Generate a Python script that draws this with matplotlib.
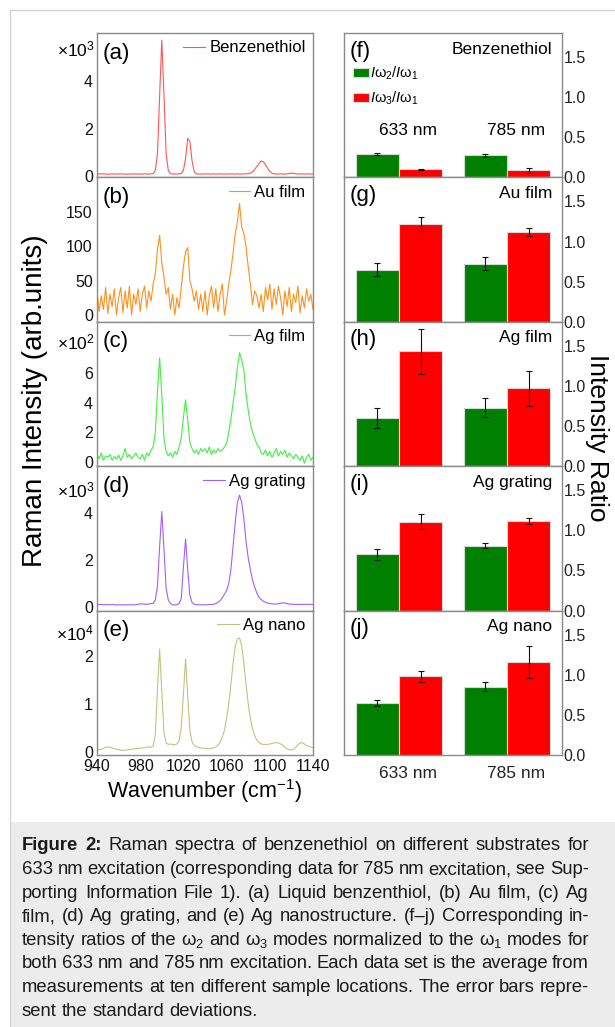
import numpy as np
import matplotlib
matplotlib.use('Agg')
import matplotlib.pyplot as plt
from matplotlib.patches import Rectangle
from matplotlib.lines import Line2D

plt.rcParams['font.family'] = ['Liberation Sans', 'DejaVu Sans']
plt.rcParams['mathtext.fontset'] = 'custom'
plt.rcParams['mathtext.rm'] = 'Liberation Sans'
plt.rcParams['mathtext.it'] = 'Liberation Sans:italic'
plt.rcParams['mathtext.bf'] = 'Liberation Sans:bold'

# ---------------- data ----------------
wavenumber = np.arange(940, 1141, 2)

benzenethiol = [0.1,0.11,0.1,0.11,0.1,0.09,0.1,0.11,0.1,0.1,
                0.1,0.11,0.1,0.1,0.09,0.1,0.1,0.11,0.1,0.1,
                0.1,0.1,0.11,0.1,0.1,0.11,0.12,0.25,0.95,3.4,
                5.7,3.4,0.95,0.25,0.12,0.1,0.1,0.1,0.11,0.12,
                0.25,0.75,1.6,1.45,0.65,0.2,0.11,0.1,0.1,0.1,
                0.1,0.11,0.1,0.1,0.11,0.1,0.1,0.11,0.1,0.1,
                0.1,0.1,0.11,0.1,0.1,0.11,0.1,0.1,0.11,0.11,
                0.11,0.14,0.19,0.29,0.42,0.54,0.64,0.62,0.49,0.34,
                0.21,0.14,0.11,0.1,0.1,0.11,0.1,0.1,0.11,0.12,
                0.14,0.13,0.11,0.1,0.1,0.11,0.1,0.1,0.11,0.1,
                0.1]
au_film = [35,5,28,8,40,2,30,12,38,0,
           25,40,3,35,10,42,0,30,15,38,
           5,30,42,10,35,20,45,60,95,116,
           75,55,30,40,8,30,0,25,10,40,
           70,92,98,50,38,20,35,8,30,5,
           35,0,28,42,10,38,5,30,45,0,
           20,45,65,90,118,135,162,128,118,100,
           70,45,15,35,28,10,30,5,40,22,
           45,8,38,15,42,25,0,35,12,40,
           5,30,18,42,3,28,10,38,20,30,
           8]
ag_film = [0.5,0.2,0.6,0.1,0.4,0.3,0.5,0.1,0.35,0.2,
           0.45,0.1,0.4,0.9,0.3,0.5,0.2,0.4,0.6,0.3,
           0.2,0.5,0.1,0.6,0.4,0.8,1.0,2.0,4.8,7.05,
           4.5,1.6,0.7,0.4,0.6,0.3,0.7,0.5,1.0,1.6,
           3.0,4.2,2.8,1.3,0.9,0.6,0.8,0.5,0.9,0.7,
           0.9,0.6,1.0,0.5,0.8,0.6,0.9,0.7,0.8,1.0,
           1.25,2.0,2.9,4.0,5.1,6.4,7.4,6.9,6.2,4.6,
           3.5,2.6,2.0,1.6,1.2,1.0,0.6,0.5,0.8,0.4,
           0.7,0.3,0.6,0.9,0.4,0.7,0.5,0.8,0.3,0.6,
           0.4,0.2,0.5,0.3,0.1,0.4,-0.1,0.3,0.5,0.1,
           0.3]
ag_grating = [0.12,0.11,0.12,0.1,0.11,0.1,0.1,0.11,0.1,0.09,
              0.1,0.09,0.1,0.09,0.1,0.1,0.09,0.1,0.1,0.12,
              0.13,0.14,0.12,0.12,0.13,0.15,0.15,0.3,0.9,2.6,
              4.07,2.5,0.8,0.3,0.15,0.1,0.09,0.1,0.15,0.35,
              1.7,2.9,1.6,0.5,0.2,0.12,0.1,0.1,0.1,0.1,
              0.1,0.1,0.11,0.11,0.12,0.15,0.2,0.28,0.4,0.55,
              0.7,1.0,1.6,2.6,3.6,4.45,4.77,4.45,3.75,2.8,
              2.1,1.6,1.15,0.85,0.6,0.42,0.32,0.25,0.2,0.17,
              0.15,0.14,0.13,0.13,0.14,0.16,0.18,0.17,0.15,0.13,
              0.12,0.12,0.11,0.12,0.11,0.11,0.12,0.11,0.12,0.11,
              0.11]
ag_nano = [0.03,0.04,0.05,0.07,0.09,0.1,0.09,0.08,0.06,0.05,
           0.04,0.03,0.03,0.03,0.04,0.04,0.05,0.06,0.06,0.07,
           0.07,0.08,0.08,0.09,0.1,0.09,0.12,0.35,1.3,2.14,
           1.25,0.4,0.18,0.15,0.16,0.15,0.14,0.16,0.22,0.5,
           1.2,1.93,1.15,0.45,0.2,0.13,0.1,0.09,0.08,0.07,
           0.07,0.06,0.06,0.07,0.08,0.1,0.13,0.2,0.3,0.45,
           0.7,1.0,1.4,1.85,2.2,2.35,2.37,2.2,1.85,1.4,
           1.0,0.7,0.48,0.33,0.24,0.19,0.16,0.15,0.15,0.15,
           0.16,0.17,0.18,0.19,0.18,0.16,0.13,0.09,0.06,0.04,
           0.03,0.05,0.09,0.14,0.18,0.19,0.16,0.13,0.11,0.1,
           0.08]

spectra = [benzenethiol, au_film, ag_film, ag_grating, ag_nano]
spec_names = ['Benzenethiol', 'Au film', 'Ag film', 'Ag grating', 'Ag nano']
spec_letters = ['(a)', '(b)', '(c)', '(d)', '(e)']
spec_colors = ['#ff5555', '#ff9020', '#40f040', '#a060ff', '#c2c282']
spec_scale = ['$\\times$10$^3$', None, '$\\times$10$^2$', '$\\times$10$^3$', '$\\times$10$^4$']
spec_yticks = [[0, 2, 4], [0, 50, 100, 150], [0, 2, 4, 6], [0, 2, 4], [0, 1, 2]]
spec_ylim = [(-0.04, 6.0), (-10, 200), (-0.3, 9.5), (-0.15, 6.0), (-0.07, 2.94)]
x_ticks = [940, 980, 1020, 1060, 1100, 1140]

excitation = ['633 nm', '785 nm']
bar_letters = ['(f)', '(g)', '(h)', '(i)', '(j)']
ratio_w2 = {'633 nm': [0.29, 0.65, 0.60, 0.70, 0.646],
            '785 nm': [0.275, 0.725, 0.73, 0.81, 0.85]}
ratio_w2_err = {'633 nm': [0.01, 0.08, 0.12, 0.067, 0.035],
                '785 nm': [0.02, 0.08, 0.12, 0.03, 0.055]}
ratio_w3 = {'633 nm': [0.10, 1.22, 1.43, 1.11, 0.98],
            '785 nm': [0.09, 1.12, 0.97, 1.12, 1.16]}
ratio_w3_err = {'633 nm': [0.01, 0.09, 0.275, 0.096, 0.07],
                '785 nm': [0.03, 0.045, 0.22, 0.04, 0.2]}
ratio_yticks = [0.0, 0.5, 1.0, 1.5]

caption = [
    [("Figure", True), ("2:", True), "Raman", "spectra", "of", "benzenethiol", "on", "different", "substrates", "for"],
    "633 nm excitation (corresponding data for 785 nm excitation, see Sup-".split(),
    "porting Information File 1). (a) Liquid benzenthiol, (b) Au film, (c) Ag".split(),
    "film, (d) Ag grating, and (e) Ag nanostructure. (f\u2013j) Corresponding in-".split(),
    "tensity ratios of the \u03c9$_2$ and \u03c9$_3$ modes normalized to the \u03c9$_1$ modes for".split(),
    "both 633 nm and 785 nm excitation. Each data set is the average from".split(),
    "measurements at ten different sample locations. The error bars repre-".split(),
    "sent the standard deviations.".split(),
]

# ---------------- figure ----------------
W, H = 615, 1027
fig = plt.figure(figsize=(W / 100, H / 100), dpi=100)
fig.patch.set_facecolor('white')

def fx(x):
    return x / W

def fy(y):
    return 1 - y / H

# frame and caption background
fig.add_artist(Rectangle((fx(10), 0), fx(W - 10), (H - 822) / H, transform=fig.transFigure,
                         facecolor='#ececec', edgecolor='none', zorder=-5))
fig.add_artist(Line2D([fx(10), fx(10)], [fy(10), 0], transform=fig.transFigure, color='#d4d4d4', lw=1))
fig.add_artist(Line2D([fx(10), 1], [fy(10), fy(10)], transform=fig.transFigure, color='#d4d4d4', lw=1))

SPINE = '#8a8a8a'
tops = [33, 177.4, 321.8, 466.2, 610.6]
ph = 144.4
scale_off = [16, None, 21, 24, 23]

for i in range(5):
    ax = fig.add_axes([fx(97), fy(tops[i] + ph), 216 / W, ph / H])
    ax.plot(wavenumber, spectra[i], color=spec_colors[i], lw=0.8, label=spec_names[i])
    ax.set_xlim(940, 1140)
    ax.set_ylim(*spec_ylim[i])
    ax.set_yticks(spec_yticks[i])
    ax.set_xticks(x_ticks)
    ax.tick_params(length=0, labelsize=11.5, pad=3, colors='#111111')
    if i < 4:
        ax.set_xticklabels([])
    for s in ax.spines.values():
        s.set_color(SPINE)
        s.set_linewidth(1)
    ax.legend(loc='upper right', frameon=False, fontsize=12, handlelength=1.3,
              handletextpad=0.25, borderaxespad=0.15, borderpad=0.3)
    ax.text(0.025, 1 - 20 / ph, spec_letters[i], transform=ax.transAxes, fontsize=16,
            ha='left', va='center')
    if spec_scale[i]:
        ax.text(-0.012, 1 - scale_off[i] / ph, spec_scale[i], transform=ax.transAxes,
                fontsize=12.5, ha='right', va='center')
    if i == 4:
        ax.set_xlabel('Wavenumber (cm$^{-1}$)', fontsize=15.5, labelpad=2)

bw = 0.4
gx = np.arange(len(excitation))
for i in range(5):
    ax = fig.add_axes([fx(344), fy(tops[i] + ph), 218 / W, ph / H])
    g = [ratio_w2[e][i] for e in excitation]
    ge = [ratio_w2_err[e][i] for e in excitation]
    r = [ratio_w3[e][i] for e in excitation]
    re_ = [ratio_w3_err[e][i] for e in excitation]
    b1 = ax.bar(gx - bw / 2, g, bw, yerr=ge, color='#008000', edgecolor='#d8d8d8', linewidth=0.8,
                error_kw=dict(ecolor='#111111', elinewidth=0.8, capsize=2, capthick=0.8),
                label='$I$\u03c9$_2$/$I$\u03c9$_1$')
    b2 = ax.bar(gx + bw / 2, r, bw, yerr=re_, color='#ff0000', edgecolor='#d8d8d8', linewidth=0.8,
                error_kw=dict(ecolor='#111111', elinewidth=0.8, capsize=2, capthick=0.8),
                label='$I$\u03c9$_3$/$I$\u03c9$_1$')
    ax.set_xlim(-0.51, 1.51)
    ax.set_ylim(0, 1.8)
    ax.yaxis.tick_right()
    ax.set_yticks(ratio_yticks)
    ax.set_yticklabels(['%.1f' % v for v in ratio_yticks])
    ax.tick_params(length=0, labelsize=11.5, pad=1, colors='#222222')
    for s in ax.spines.values():
        s.set_color(SPINE)
        s.set_linewidth(1)
    if i == 4:
        ax.set_xticks(gx + 0.08)
        ax.set_xticklabels(excitation, fontsize=12.5)
        ax.tick_params(axis='x', pad=8)
    else:
        ax.set_xticks([])
    ax.text(0.025, 1 - 18 / ph, bar_letters[i], transform=ax.transAxes, fontsize=16,
            ha='left', va='center')
    ax.text(0.955, 1 - 16 / ph, spec_names[i], transform=ax.transAxes, fontsize=12.5,
            ha='right', va='center')
    if i == 0:
        for k, e in enumerate(excitation):
            ax.text(gx[k] + 0.08, 0.59, e, fontsize=12.5, ha='center', va='center')
        ax.legend(handles=[b1, b2], loc='upper left', bbox_to_anchor=(0.0, 0.84), frameon=False,
                  fontsize=10.5, handlelength=1.1, handleheight=0.55, handletextpad=0.1,
                  labelspacing=0.5, borderaxespad=0.2)

fig.text(fx(35), fy(401), 'Raman Intensity (arb.units)', rotation=90, fontsize=20,
         ha='center', va='center')
fig.text(fx(597), fy(438), 'Intensity Ratio', rotation=270, fontsize=19,
         ha='center', va='center')

# ---------------- caption (justified) ----------------
CAP_FS = 13.3
x0, x1 = 22, 589
renderer = fig.canvas.get_renderer()
for li, words in enumerate(caption):
    yb = 850.5 + li * 23.6
    items = [w if isinstance(w, tuple) else (w, False) for w in words]
    texts = [fig.text(0, fy(yb), w, fontsize=CAP_FS, fontweight='bold' if b else 'normal',
                      ha='left', va='baseline', color='#1a1a1a') for w, b in items]
    widths = [t.get_window_extent(renderer).width for t in texts]
    last = li == len(caption) - 1
    if last:
        gap = 0.278 * CAP_FS * 100 / 72
    else:
        gap = (x1 - x0 - sum(widths)) / (len(texts) - 1)
    x = x0
    for t, wdt in zip(texts, widths):
        t.set_x(fx(x))
        x += wdt + gap

fig.savefig('out.png', dpi=100)
